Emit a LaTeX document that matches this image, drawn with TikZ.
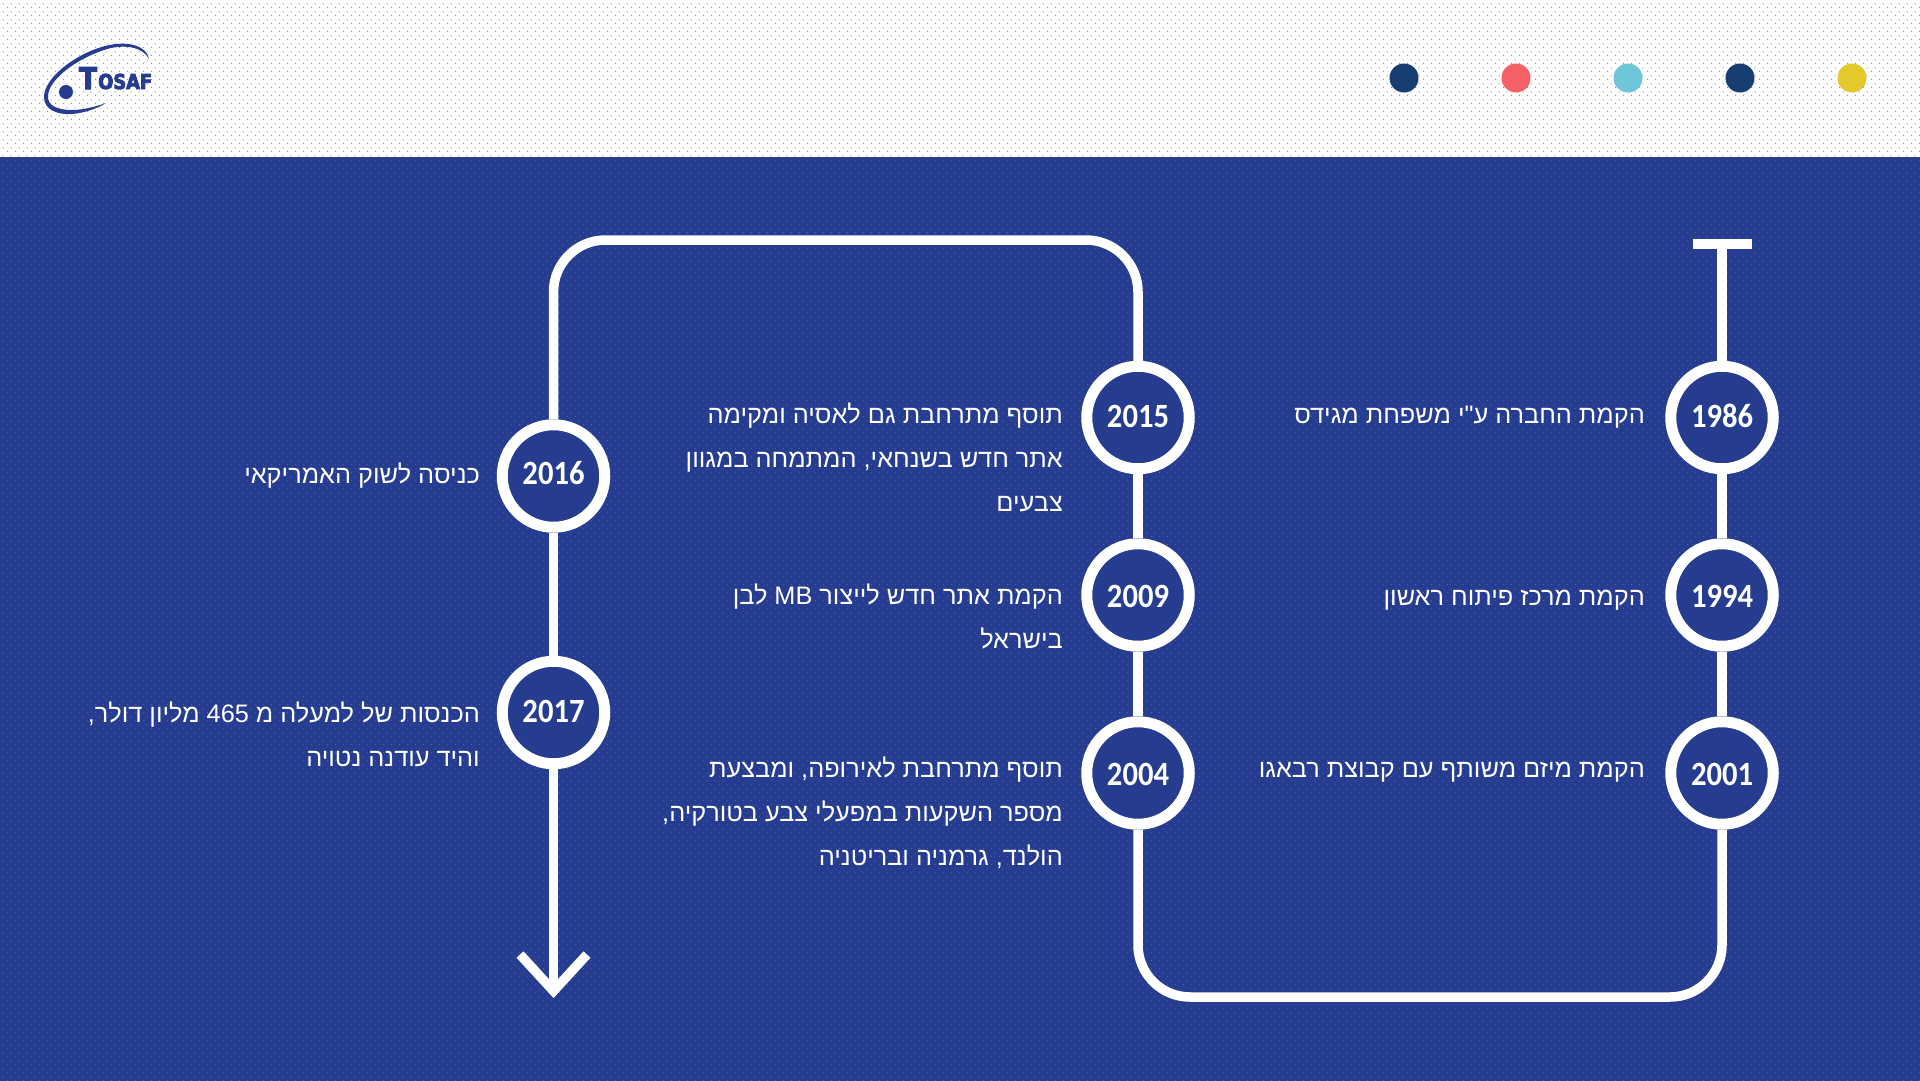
\documentclass[tikz,border=0pt]{standalone}
\usepackage{fontspec}
\usetikzlibrary{patterns}
\TeXXeTstate=1
\newfontfamily\hebfont[Script=Hebrew]{Liberation Sans}
\newfontfamily\yearfont[FakeStretch=0.9]{Carlito Bold}
\newfontfamily\logofont[FakeBold=4,FakeStretch=0.87]{DejaVu Sans Bold}
\newcommand{\heb}[1]{\beginR #1\endR}
\newcommand{\lat}[1]{\beginL #1\endL{}}
\definecolor{bgblue}{HTML}{253C8F}
\definecolor{dotblue}{HTML}{3D60E0}
\definecolor{dotgrey}{HTML}{8C8C8C}
\definecolor{navy}{HTML}{163E70}
\definecolor{coral}{HTML}{F55F66}
\definecolor{cyanish}{HTML}{6EC6D9}
\definecolor{yellowish}{HTML}{E3C92B}
\pgfdeclarepatternformonly{stagdots}{\pgfqpoint{0pt}{0pt}}{\pgfqpoint{8pt}{8pt}}{\pgfqpoint{8pt}{8pt}}{%
  \pgfpathrectangle{\pgfqpoint{0pt}{0pt}}{\pgfqpoint{1.3pt}{1.3pt}}%
  \pgfpathrectangle{\pgfqpoint{4pt}{4pt}}{\pgfqpoint{1.3pt}{1.3pt}}%
  \pgfusepath{fill}}
\tikzset{
  x=1pt,y=-1pt,
  yearnode/.style={circle,draw=white,fill=bgblue,line width=11pt,minimum size=102.5pt,inner sep=0pt,text=white,text height=21pt,text depth=0pt,font=\yearfont\fontsize{34}{34}\selectfont},
  track/.style={draw=white,line width=9.5pt,rounded corners=52pt},
  note/.style={anchor=base east,align=right,text=white,inner sep=0pt,font=\hebfont\fontsize{25.3}{43.6}\selectfont},
  topdot/.style={circle,inner sep=0pt,minimum size=29pt},
}
\begin{document}
\begin{tikzpicture}
\useasboundingbox (0,0) rectangle (1920,1080);
\fill[white] (-3,-3) rectangle (1923,157);
\fill[pattern=stagdots,pattern color=dotgrey] (-3,-3) rectangle (1923,157);
\fill[bgblue] (-3,157) rectangle (1923,1084);
\fill[pattern=stagdots,pattern color=dotblue] (-3,157) rectangle (1923,1084);
% header dots
\node[topdot,fill=navy] (d1) at (1404,78) {};
\node[topdot,fill=coral] (d2) at (1516,78) {};
\node[topdot,fill=cyanish] (d3) at (1628,78) {};
\node[topdot,fill=navy] (d4) at (1740,78) {};
\node[topdot,fill=yellowish] (d5) at (1852,78) {};
% logo
\fill[bgblue] (149,59) .. controls (147,46) and (128,40) .. (105,46) .. controls (75,54) and (44,78) .. (44,97) .. controls (44,110) and (58,115) .. (72,114) .. controls (85,113) and (98,108) .. (106,103) .. controls (95,107) and (82,110) .. (72,110) .. controls (56,110) and (47,105) .. (48,95) .. controls (50,78) and (78,58) .. (107,49) .. controls (125,44) and (143,47) .. (149,59) -- cycle;
\node[circle,fill=bgblue,inner sep=0pt,minimum size=14pt] (logodot) at (66,92) {};
\node[anchor=base west,inner sep=0pt,text=bgblue,font=\logofont\fontsize{30}{30}\selectfont] (logot) at (79,89) {T};
\node[anchor=base west,inner sep=0pt,text=bgblue,font=\logofont\fontsize{20.5}{20.5}\selectfont] (logorest) at (98,89) {OSAF};
% free coordinates
\coordinate (tbarl) at (1692.5,244);
\coordinate (tbarr) at (1752,244);
\coordinate (tbarm) at (1722,244);
\coordinate (botr) at (1722,997);
\coordinate (botl) at (1138,997);
\coordinate (topr) at (1138,240);
\coordinate (topl) at (553.5,240);
\coordinate (arrowv) at (553.5,991);
\coordinate (arrowl) at (520,954.5);
\coordinate (arrowr) at (587,954.5);
% circles
\node[yearnode] (y1986) at (1722,417.5) {\raisebox{0.5pt}{1986}};
\node[yearnode] (y1994) at (1722,595) {\raisebox{-1.5pt}{1994}};
\node[yearnode] (y2001) at (1722,773) {\raisebox{-1.5pt}{2001}};
\node[yearnode] (y2015) at (1138,417.5) {\raisebox{0.5pt}{2015}};
\node[yearnode] (y2009) at (1138,595) {\raisebox{-1.5pt}{2009}};
\node[yearnode] (y2004) at (1138,773) {\raisebox{-1.5pt}{2004}};
\node[yearnode] (y2016) at (553.5,476) {\raisebox{2pt}{2016}};
\node[yearnode] (y2017) at (553.5,712.5) {\raisebox{1pt}{2017}};
% connectors
\draw[white,line width=9.5pt] (tbarl) -- (tbarr);
\draw[track] (tbarm) -- (y1986);
\draw[track] (y1986) -- (y1994);
\draw[track] (y1994) -- (y2001);
\draw[track] (y2001) -- (botr) -- (botl) -- (y2004);
\draw[track] (y2004) -- (y2009);
\draw[track] (y2009) -- (y2015);
\draw[track] (y2015) -- (topr) -- (topl) -- (y2016);
\draw[track] (y2016) -- (y2017);
\draw[track] (y2017) -- (arrowv);
\draw[draw=white,line width=9.5pt,miter limit=10] (arrowl) -- (arrowv) -- (arrowr);
% notes
\node[note] (n1986) at (1645,423.7) {\heb{הקמת החברה ע"י משפחת מגידס}};
\node[note] (n1994) at (1645,605) {\heb{הקמת מרכז פיתוח ראשון}};
\node[note] (n2001) at (1645,777.5) {\heb{הקמת מיזם משותף עם קבוצת רבאגו}};
\node[note] (n2015) at (1063,511) {\heb{תוסף מתרחבת גם לאסיה ומקימה}\\\heb{אתר חדש בשנחאי, המתמחה במגוון}\\\heb{צבעים}};
\node[note] (n2009) at (1063,648) {\heb{הקמת אתר חדש לייצור \lat{MB} לבן}\\\heb{בישראל}};
\node[note] (n2004) at (1063,865) {\heb{תוסף מתרחבת לאירופה, ומבצעת}\\\heb{מספר השקעות במפעלי צבע בטורקיה,}\\\heb{הולנד, גרמניה ובריטניה}};
\node[note] (n2016) at (480,483) {\heb{כניסה לשוק האמריקאי}};
\node[note] (n2017) at (480,766) {\heb{הכנסות של למעלה מ \lat{465} מליון דולר,}\\\heb{והיד עודנה נטויה}};
\end{tikzpicture}
\end{document}
